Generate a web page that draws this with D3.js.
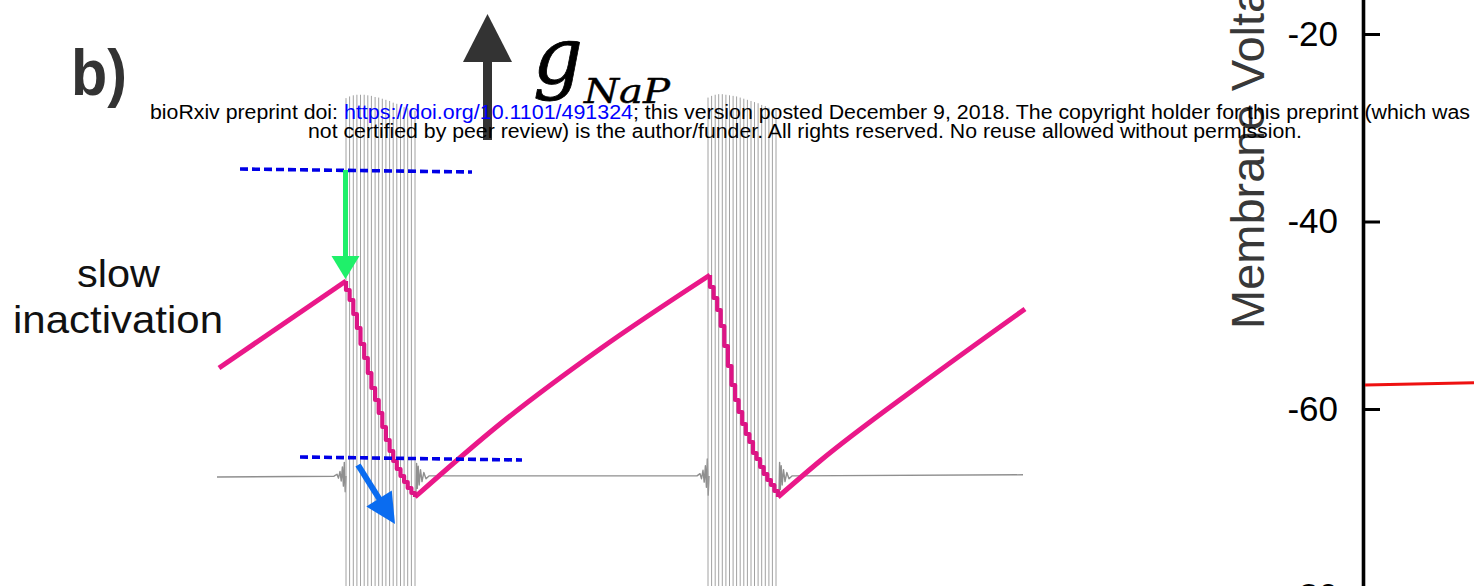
<!DOCTYPE html>
<html>
<head>
<meta charset="utf-8">
<script src="https://cdn.jsdelivr.net/npm/d3@7"></script>
<style>
  html, body { margin: 0; padding: 0; background: #fff; }
  svg { display: block; }
</style>
</head>
<body>
<svg id="fig" width="1474" height="586"></svg>
<script>
// ---------------- data ----------------
// time in s, membrane potential in mV

// sub-threshold trace between bursts (with the small oscillations at burst onset / offset)
const traceBeforeBurst1 = [[0.00,-57.2],[1.17,-57.05],[1.20,-56.7],[1.215,-57.4],[1.23,-56.2],[1.242,-57.9],
  [1.254,-55.4],[1.264,-58.8],[1.273,-54.6],[1.282,-59.8],[1.29,-57.0]];
const traceBetweenBursts = [[1.99,-59.8],[1.996,-54.8],[2.003,-59.2],[2.012,-55.3],[2.022,-58.6],[2.035,-55.9],
  [2.05,-58.0],[2.068,-56.4],[2.09,-57.5],[2.12,-57.0],[4.80,-57.0],[4.83,-56.6],[4.845,-57.5],[4.86,-56.0],
  [4.872,-58.1],[4.884,-55.2],[4.894,-59.0],[4.903,-54.0],[4.912,-60.4],[4.92,-57.0]];
const traceAfterBurst2 = [[5.62,-59.8],[5.626,-54.6],[5.633,-59.4],[5.642,-55.2],[5.652,-58.6],[5.665,-55.9],
  [5.68,-58.0],[5.698,-56.4],[5.72,-57.5],[5.75,-57.0],[8.06,-56.8]];

// spike times and spike peaks of the two bursts
const burst1SpikeTimes = [1.29,1.326,1.363,1.399,1.435,1.472,1.508,1.544,1.581,1.617,
  1.653,1.689,1.726,1.762,1.798,1.835,1.871,1.907,1.944,1.98];
const burst1SpikePeaks = [9.8,10.1,10.3,10.4,10.4,10.4,10.3,10.2,10.0,9.9,
  9.7,9.5,9.3,9.0,8.8,8.5,8.2,8.0,7.8,7.6];
const burst2SpikeTimes = [4.91,4.946,4.982,5.017,5.053,5.089,5.125,5.161,5.196,5.232,
  5.268,5.304,5.34,5.375,5.411,5.447,5.483,5.519,5.554,5.59];
const burst2SpikePeaks = [9.9,10.2,10.4,10.5,10.5,10.4,10.3,10.2,10.1,9.9,
  9.7,9.5,9.3,9.1,8.9,8.6,8.4,8.1,7.9,7.7];
const spikeTrough = -80;

// slow inactivation gate h_NaP: recovery between bursts and the stepwise drop at each spike
const hRecovery0 = [[0.02,0.504],[1.29,0.678]];
const hRecovery1 = [[1.98,0.246],[2.83,0.392],[3.83,0.542],[4.93,0.69]];
const hRecovery2 = [[5.61,0.246],[6.03,0.318],[7.03,0.47],[8.08,0.622]];
const hPeak1 = [1.29, 0.678];
const hStepTimes1 = [1.29,1.326,1.363,1.399,1.435,1.472,1.508,1.544,1.581,1.617,
  1.653,1.689,1.726,1.762,1.798,1.835,1.871,1.907,1.944,1.98];
const hAfterSpike1 = [0.660,0.640,0.612,0.584,0.552,0.524,0.494,0.464,0.440,0.414,
  0.386,0.360,0.338,0.318,0.302,0.288,0.276,0.264,0.254,0.246];
const hPeak2 = [4.93, 0.69];
const hStepTimes2 = [4.93,4.966,5.002,5.037,5.073,5.109,5.145,5.181,5.216,5.252,
  5.288,5.324,5.36,5.395,5.431,5.467,5.503,5.539,5.574,5.61];
const hAfterSpike2 = [0.666,0.644,0.620,0.588,0.548,0.508,0.470,0.440,0.416,0.392,
  0.372,0.356,0.334,0.322,0.306,0.292,0.280,0.270,0.258,0.246];

// h levels marked with dashed guides, and annotation arrows [t, h]
const hLevelHigh = [[0.23,0.902],[2.55,0.896]];
const hLevelLow = [[0.83,0.326],[3.05,0.320]];
const inactivationArrow = [[1.285,0.90],[1.285,0.682]];
const hyperpolArrow = [[1.41,0.31],[1.78,0.192]];
const gNaPArrow = [[2.705,0.96],[2.705,1.212]];

// right panel: membrane voltage axis and start of the red trace
const voltageTicks = [-80, -60, -40, -20];
const redTrace = [[0,-57.45],[1,-57.2]];

// text
const panelLabel = "b)";
const annotationLines = ["slow", "inactivation"];
const axisTitle = "Membrane Voltage (mV)";
const preprintLine1 = ["bioRxiv preprint doi:", "https://doi.org/10.1101/491324",
  "; this version posted December 9, 2018. The copyright holder for this preprint (which was"];
const preprintLine2 = "not certified by peer review) is the author/funder. All rights reserved. No reuse allowed without permission.";

// ---------------- drawing ----------------
const svg = d3.select("#fig");
const sans = "'Liberation Sans', Arial, Helvetica, sans-serif";

const x = d3.scaleLinear().domain([0, 8.08]).range([217, 1025]);
const v = d3.scaleLinear().domain([-80, 10]).range([606, 97]);
const h = d3.scaleLinear().domain([0, 1]).range([620, 120]);

const vLine = d3.line().x(d => x(d[0])).y(d => v(d[1]));
const hLine = d3.line().x(d => x(d[0])).y(d => h(d[1]));
const hSmooth = d3.line().x(d => x(d[0])).y(d => h(d[1])).curve(d3.curveMonotoneX);
const hStep = d3.line().x(d => x(d[0])).y(d => h(d[1])).curve(d3.curveStepAfter);

const left = svg.append("g");

// voltage trace
left.selectAll("path.trace")
  .data([traceBeforeBurst1, traceBetweenBursts, traceAfterBurst2])
  .join("path")
  .attr("class", "trace")
  .attr("d", vLine)
  .attr("fill", "none")
  .attr("stroke", "#8f8f8f")
  .attr("stroke-width", 1.4)
  .attr("stroke-linejoin", "round");

// spikes
const spikes = [
  ...burst1SpikeTimes.map((t, i) => ({t, peak: burst1SpikePeaks[i]})),
  ...burst2SpikeTimes.map((t, i) => ({t, peak: burst2SpikePeaks[i]}))
];
left.selectAll("line.spike")
  .data(spikes)
  .join("line")
  .attr("class", "spike")
  .attr("x1", d => x(d.t)).attr("x2", d => x(d.t))
  .attr("y1", d => v(d.peak)).attr("y2", v(spikeTrough))
  .attr("stroke", "#a2a2a2")
  .attr("stroke-width", 1);

// h_NaP
const pink = "#ea1889";
left.selectAll("path.hrec")
  .data([hRecovery0, hRecovery1, hRecovery2])
  .join("path")
  .attr("class", "hrec")
  .attr("d", hSmooth)
  .attr("fill", "none")
  .attr("stroke", pink)
  .attr("stroke-width", 5)
  .attr("stroke-linejoin", "round");

const decay1 = [hPeak1, ...hStepTimes1.map((t, i) => [t, hAfterSpike1[i]])];
const decay2 = [hPeak2, ...hStepTimes2.map((t, i) => [t, hAfterSpike2[i]])];
left.selectAll("path.hdec")
  .data([decay1, decay2])
  .join("path")
  .attr("class", "hdec")
  .attr("d", hStep)
  .attr("fill", "none")
  .attr("stroke", "#dc1585")
  .attr("stroke-width", 4.2)
  .attr("stroke-linejoin", "round");

// dashed level guides
left.selectAll("path.level")
  .data([hLevelHigh, hLevelLow])
  .join("path")
  .attr("class", "level")
  .attr("d", hLine)
  .attr("fill", "none")
  .attr("stroke", "#0000e6")
  .attr("stroke-width", 3.6)
  .attr("stroke-dasharray", "8,4");

// arrows
function arrow(pts, color, shaftW, headLen, headW) {
  const x1 = x(pts[0][0]), y1 = h(pts[0][1]), x2 = x(pts[1][0]), y2 = h(pts[1][1]);
  const dx = x2 - x1, dy = y2 - y1, L = Math.hypot(dx, dy);
  const ux = dx / L, uy = dy / L;
  const bx = x2 - ux * headLen, by = y2 - uy * headLen;
  left.append("line")
    .attr("x1", x1).attr("y1", y1)
    .attr("x2", bx + ux * 2).attr("y2", by + uy * 2)
    .attr("stroke", color).attr("stroke-width", shaftW);
  left.append("path")
    .attr("d", `M${x2},${y2}L${bx - uy * headW / 2},${by + ux * headW / 2}L${bx + uy * headW / 2},${by - ux * headW / 2}Z`)
    .attr("fill", color);
}
arrow(inactivationArrow, "#1ff06a", 5, 23, 28);
arrow(hyperpolArrow, "#0a6cf0", 6, 30, 30);
arrow(gNaPArrow, "#333333", 9, 48, 49);

// g_NaP label
const gLabel = left.append("g").attr("fill", "#000")
  .style("font-family", "'DejaVu Serif', 'Liberation Serif', serif")
  .style("font-style", "italic");
gLabel.append("text").attr("x", 533).attr("y", 84).attr("font-size", 78)
  .attr("stroke", "#000").attr("stroke-width", 0.8).text("g");
gLabel.append("text").attr("x", 584).attr("y", 103).attr("font-size", 33)
  .attr("stroke", "#000").attr("stroke-width", 0.4)
  .attr("textLength", 86).attr("lengthAdjust", "spacingAndGlyphs").text("NaP");

// panel label and annotation text
svg.append("text").attr("x", 71).attr("y", 95)
  .style("font-family", sans).attr("font-weight", "bold").attr("font-size", 64)
  .attr("fill", "#333").attr("textLength", 56).attr("lengthAdjust", "spacingAndGlyphs")
  .text(panelLabel);

svg.selectAll("text.annot")
  .data(annotationLines)
  .join("text")
  .attr("class", "annot")
  .attr("x", (d, i) => i === 0 ? 77 : 13)
  .attr("y", (d, i) => i === 0 ? 287 : 333)
  .attr("textLength", (d, i) => i === 0 ? 83 : 210)
  .attr("lengthAdjust", "spacingAndGlyphs")
  .style("font-family", sans).attr("font-size", 38).attr("fill", "#111")
  .text(d => d);

// right panel: voltage axis
const vR = d3.scaleLinear().domain([-82, -16]).range([615.25, -3.5]);
const xR = d3.scaleLinear().domain([0, 1]).range([1365, 1474]);

svg.append("text")
  .attr("transform", "translate(1264,329) rotate(-90)")
  .style("font-family", sans).attr("font-size", 47).attr("fill", "#383838")
  .text(axisTitle);

const axisG = svg.append("g").attr("transform", "translate(1363,0)")
  .call(d3.axisLeft(vR).tickValues(voltageTicks).tickFormat(d => String(d))
    .tickSizeInner(-17).tickSizeOuter(0).tickPadding(25));
axisG.select(".domain").attr("stroke", "#000").attr("stroke-width", 3.6);
axisG.selectAll(".tick line").attr("stroke", "#000").attr("stroke-width", 3);
axisG.selectAll(".tick text").style("font-family", sans).attr("font-size", 35).attr("fill", "#000");

svg.append("path")
  .datum(redTrace)
  .attr("d", d3.line().x(d => xR(d[0])).y(d => vR(d[1])))
  .attr("fill", "none").attr("stroke", "#ee1111").attr("stroke-width", 3);

// preprint notice on top
const notice = svg.append("g").style("font-family", sans).attr("font-size", 20);
const seg1X = [150, 344, 633], seg1W = [188, 289, 837], seg1C = ["#000", "#0000ff", "#000"];
notice.selectAll("text.l1")
  .data(preprintLine1)
  .join("text")
  .attr("class", "l1")
  .attr("x", (d, i) => seg1X[i]).attr("y", 119)
  .attr("textLength", (d, i) => seg1W[i]).attr("lengthAdjust", "spacingAndGlyphs")
  .attr("fill", (d, i) => seg1C[i])
  .text(d => d);
notice.append("text")
  .attr("x", 308).attr("y", 138)
  .attr("textLength", 994).attr("lengthAdjust", "spacingAndGlyphs")
  .attr("fill", "#000")
  .text(preprintLine2);
</script>
</body>
</html>
